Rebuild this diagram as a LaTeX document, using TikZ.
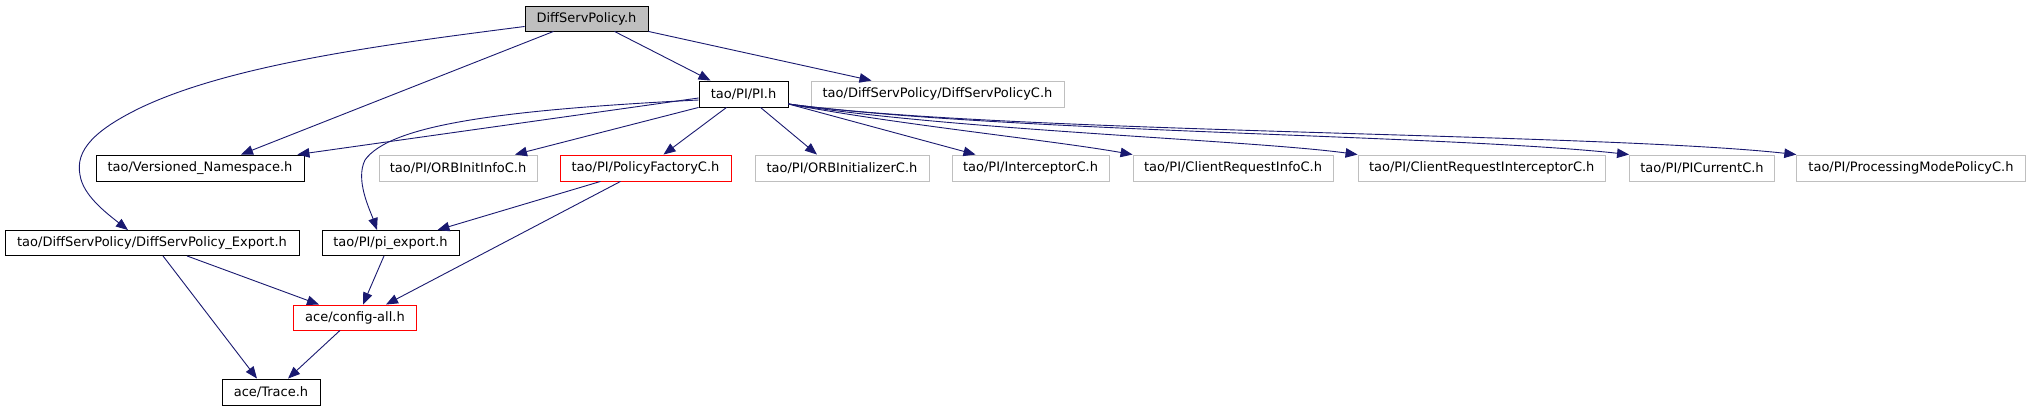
\documentclass[tikz,border=0pt]{standalone}
\usepackage{fontspec}
\setmainfont{DejaVu Sans}
\usetikzlibrary{arrows.meta}
\definecolor{edgec}{HTML}{191970}
\definecolor{grayb}{HTML}{BFBFBF}
\begin{document}
\begin{tikzpicture}[x=1pt,y=-1pt,
  box/.style={draw=black, line width=0.9pt, minimum height=26pt, inner sep=0pt, font=\fontsize{13}{15}\selectfont},
  gbox/.style={box, draw=grayb},
  rbox/.style={box, draw=red},
  edge/.style={draw=edgec, line width=0.9pt, -{Triangle[length=12pt,width=9.5pt]}}]
\fill[white] (0,0) rectangle (2029,411);
\useasboundingbox (0,0) rectangle (2029,411);
% row 0
\node[box, fill=grayb, minimum width=123pt, minimum height=25pt] (dsp) at (586.5,18.5) {DiffServPolicy.h};
% row 1
\node[box, minimum width=89pt] (pi) at (743.5,94) {tao/PI/PI.h};
\node[gbox, minimum width=253pt] (dspc) at (937.5,94) {tao/DiffServPolicy/DiffServPolicyC.h};
% row 2
\node[box, minimum width=208pt] (vn) at (200,168) {tao/Versioned\_Namespace.h};
\node[gbox, minimum width=158pt] (oii) at (458,168) {tao/PI/ORBInitInfoC.h};
\node[rbox, minimum width=171pt] (pf) at (645.5,168) {tao/PI/PolicyFactoryC.h};
\node[gbox, minimum width=174pt] (oiz) at (842,168) {tao/PI/ORBInitializerC.h};
\node[gbox, minimum width=157pt] (ic) at (1030.5,168) {tao/PI/InterceptorC.h};
\node[gbox, minimum width=200pt] (cri) at (1233,168) {tao/PI/ClientRequestInfoC.h};
\node[gbox, minimum width=247.5pt] (cric) at (1481.75,168) {tao/PI/ClientRequestInterceptorC.h};
\node[gbox, minimum width=145pt] (pic) at (1702,168) {tao/PI/PICurrentC.h};
\node[gbox, minimum width=228.5pt] (pmp) at (1911,168) {tao/PI/ProcessingModePolicyC.h};
% row 3
\node[box, minimum width=294pt, minimum height=25pt] (dspe) at (152,243) {tao/DiffServPolicy/DiffServPolicy\_Export.h};
\node[box, minimum width=137pt, minimum height=25pt] (pie) at (390.5,243) {tao/PI/pi\_export.h};
% row 4
\node[rbox, minimum width=123.5pt, minimum height=25pt] (cfg) at (355,317.5) {ace/config-all.h};
% row 5
\node[box, minimum width=98pt] (tr) at (271,392) {ace/Trace.h};

% edges from DiffServPolicy.h
\draw[edge] ([xshift=28pt]dsp.south) -- ([xshift=-33pt]pi.north);
\draw[edge] (dsp.south east) -- ([xshift=-66pt]dspc.north);
\draw[edge] ([xshift=-33pt]dsp.south) -- ([xshift=41pt]vn.north);
\draw[edge] ([yshift=-8pt]dsp.west) .. controls (380,45) and (230,65) .. (140,108)
  .. controls (95,130) and (75,150) .. (80,175)
  .. controls (83,195) and (105,212) .. ([xshift=-24pt]dspe.north);

% edges from tao/PI/PI.h
\draw[edge] ([yshift=-4pt]pi.west) -- ([xshift=-7pt]vn.north east);
\draw[edge] (pi.south west) -- ([xshift=57pt]oii.north);
\draw[edge] ([yshift=-6pt]pi.west) .. controls (500,110) and (390,125) .. (365,160)
  .. controls (355,180) and (370,210) .. ([xshift=-13.5pt]pie.north);
\draw[edge] ([xshift=-17pt]pi.south) -- ([xshift=18pt]pf.north);
\draw[edge] ([xshift=17pt]pi.south) -- ([xshift=-25pt]oiz.north);
\draw[edge] ([yshift=-10pt]pi.east) -- ([xshift=-55pt]ic.north);
\draw[edge] ([yshift=-10pt]pi.east) .. controls (900,125) and (1050,140) .. (cri.north west);
\draw[edge] ([yshift=-10pt]pi.east) .. controls (950,130) and (1250,140) .. (cric.north west);
\draw[edge] ([yshift=-10pt]pi.east) .. controls (1000,132) and (1450,135) .. (pic.north west);
\draw[edge] ([yshift=-10pt]pi.east) .. controls (1000,133) and (1600,133) .. (pmp.north west);

% lower edges
\draw[edge] ([xshift=-45pt]pf.south) -- ([xshift=-22pt]pie.north east);
\draw[edge] ([xshift=-25pt]pf.south) -- ([xshift=31pt]cfg.north);
\draw[edge] ([xshift=35pt]dspe.south) -- ([xshift=-36pt]cfg.north);
\draw[edge] ([xshift=11pt]dspe.south) -- ([xshift=-14pt]tr.north);
\draw[edge] ([xshift=-6.5pt]pie.south) -- ([xshift=8pt]cfg.north);
\draw[edge] ([xshift=-15pt]cfg.south) -- ([xshift=17pt]tr.north);
\end{tikzpicture}
\end{document}
